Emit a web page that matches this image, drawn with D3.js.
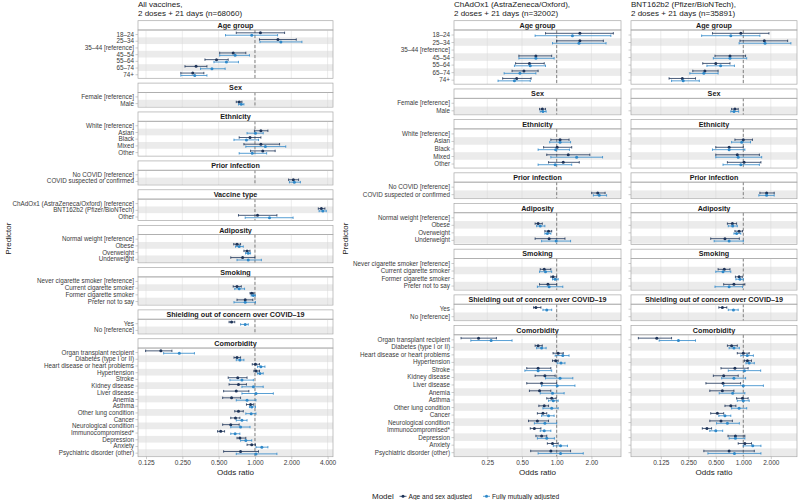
<!DOCTYPE html>
<html>
<head>
<meta charset="utf-8">
<script src="https://cdn.jsdelivr.net/npm/d3@7"></script>
<style>
  body { margin: 0; background: #fff; }
  text { font-family: "Liberation Sans", Arial, sans-serif; }
</style>
</head>
<body>
<div id="chart"></div>
<script>
// ---- levels of each predictor group ----
var ageLevels = ["18–24", "25–34", "35–44 [reference]", "45–54", "55–64", "65–74", "74+"];
var sexLevels = ["Female [reference]", "Male"];
var ethnicityLevels = ["White [reference]", "Asian", "Black", "Mixed", "Other"];
var priorLevels = ["No COVID [reference]", "COVID suspected or confirmed"];
var vaccineLevels = ["ChAdOx1 (AstraZeneca/Oxford) [reference]", "BNT162b2 (Pfizer/BioNTech)", "Other"];
var adiposityLevels = ["Normal weight [reference]", "Obese", "Overweight", "Underweight"];
var smokingLevels = ["Never cigarette smoker [reference]", "Current cigarette smoker", "Former cigarette smoker", "Prefer not to say"];
var shieldingLevels = ["Yes", "No [reference]"];
var comorbidityLevels = ["Organ transplant recipient", "Diabetes (type I or II)", "Heart disease or heart problems",
  "Hypertension", "Stroke", "Kidney disease", "Liver disease", "Anemia", "Asthma", "Other lung condition", "Cancer",
  "Neurological condition", "Immunocompromised*", "Depression", "Anxiety", "Psychiatric disorder (other)"];

var models = ["Age and sex adjusted", "Fully mutually adjusted"];
var xTicksAll = [0.125, 0.25, 0.5, 1, 2, 4];
var xTicksAz = [0.25, 0.5, 1, 2];
var xTicksPf = [0.125, 0.25, 0.5, 1, 2];

// ---- odds ratios [OR, lower, upper], in the order of the panel's levels (null = reference) ----
var allAgeSex = [
  [1.11,0.70,1.76],[1.55,1.09,2.2],null,[0.66,0.51,0.84],[0.48,0.385,0.60],[0.325,0.263,0.40],[0.305,0.243,0.377],
  null,[0.74,0.70,0.78],
  null,[1.12,0.99,1.28],[0.91,0.74,1.12],[1.12,0.81,1.60],[1.16,0.92,1.47],
  null,[2.08,1.90,2.30],
  null,[3.55,3.35,3.80],[1.05,0.73,1.52],
  null,[0.71,0.667,0.76],[0.86,0.81,0.91],[0.79,0.63,1.0],
  null,[0.71,0.66,0.77],[0.94,0.91,0.98],[0.83,0.71,0.96],
  [0.64,0.61,0.68],null,
  [0.166,0.124,0.205],[0.71,0.67,0.76],[1.01,0.95,1.09],[1.02,0.98,1.09],[0.72,0.60,0.86],[0.73,0.61,0.85],
  [0.70,0.55,0.89],[0.64,0.54,0.76],[0.92,0.85,0.97],[0.73,0.68,0.80],[0.69,0.63,0.75],[0.63,0.54,0.74],
  [0.52,0.49,0.56],[0.75,0.71,0.84],[0.94,0.86,1.01],[0.76,0.55,1.07]
];
var allFull = [
  [0.94,0.57,1.54],[1.64,1.10,2.45],null,[0.685,0.51,0.90],[0.58,0.457,0.73],[0.44,0.354,0.566],[0.317,0.243,0.40],
  null,[0.77,0.73,0.81],
  null,[1.01,0.86,1.17],[0.85,0.67,1.07],[1.22,0.84,1.80],[0.95,0.74,1.25],
  null,[2.12,1.93,2.38],
  null,[3.65,3.40,3.90],[1.32,0.83,2.07],
  null,[0.74,0.69,0.80],[0.88,0.835,0.92],[0.88,0.71,1.13],
  null,[0.74,0.68,0.82],[0.97,0.93,1.01],[0.83,0.67,1.01],
  [0.83,0.76,0.88],null,
  [0.236,0.175,0.315],[0.75,0.70,0.81],[1.12,1.05,1.21],[1.10,1.05,1.17],[0.78,0.62,0.97],[0.97,0.78,1.17],
  [1.02,0.78,1.42],[0.86,0.70,1.02],[0.94,0.90,1.01],[0.93,0.84,1.02],[0.78,0.70,0.86],[0.76,0.63,0.91],
  [0.685,0.63,0.75],[0.84,0.76,0.94],[1.14,1.02,1.28],[1.02,0.70,1.52]
];
var azAgeSex = [
  [1.59,0.80,3.1],[1.59,1.0,2.54],null,[0.66,0.47,0.905],[0.58,0.44,0.78],[0.52,0.41,0.69],[0.45,0.34,0.60],
  null,[0.75,0.71,0.80],
  null,[1.07,0.89,1.28],[1.01,0.77,1.35],[1.26,0.82,1.94],[1.14,0.85,1.57],
  null,[2.27,2.01,2.63],
  null,[0.69,0.65,0.75],[0.85,0.79,0.905],[0.86,0.65,1.18],
  null,[0.78,0.72,0.89],[0.93,0.89,1.0],[0.84,0.71,1.0],
  [0.66,0.63,0.73],null,
  [0.21,0.148,0.30],[0.69,0.65,0.75],[1.03,0.93,1.14],[0.98,0.92,1.03],[0.69,0.55,0.89],[0.79,0.65,0.97],
  [0.74,0.55,1.0],[0.71,0.58,0.89],[0.905,0.82,0.99],[0.78,0.70,0.85],[0.76,0.68,0.82],[0.68,0.57,0.85],
  [0.64,0.59,0.73],[0.74,0.66,0.82],[0.92,0.83,1.03],[0.89,0.595,1.32]
];
var azFull = [
  [1.37,0.65,2.95],[1.56,0.92,2.68],null,[0.66,0.47,0.95],[0.59,0.43,0.80],[0.48,0.35,0.66],[0.43,0.31,0.59],
  null,[0.76,0.72,0.81],
  null,[1.07,0.87,1.32],[0.98,0.69,1.29],[1.49,0.89,2.5],[0.97,0.69,1.35],
  null,[2.34,2.08,2.71],
  null,[0.72,0.67,0.79],[0.83,0.79,0.89],[0.99,0.74,1.32],
  null,[0.80,0.71,0.905],[0.97,0.92,1.03],[0.86,0.68,1.13],
  [0.82,0.76,0.905],null,
  [0.27,0.18,0.41],[0.74,0.67,0.81],[1.13,0.97,1.28],[1.09,1.01,1.18],[0.69,0.53,0.905],[1.07,0.80,1.38],
  [1.01,0.74,1.44],[0.92,0.72,1.16],[0.935,0.85,1.03],[0.905,0.76,1.03],[0.85,0.74,0.95],[0.79,0.64,1.0],
  [0.78,0.72,0.89],[0.82,0.68,0.955],[1.08,0.935,1.24],[1.08,0.69,1.70]
];
var pfAgeSex = [
  [0.94,0.46,1.91],[1.70,0.92,3.06],null,[0.715,0.49,1.06],[0.50,0.36,0.715],[0.38,0.28,0.53],[0.215,0.154,0.30],
  null,[0.81,0.745,0.88],
  null,[1.0,0.81,1.26],[0.70,0.50,1.0],[0.86,0.50,1.50],[1.02,0.67,1.56],
  null,[1.80,1.52,2.18],
  null,[0.76,0.67,0.845],[0.90,0.81,0.98],[0.63,0.44,0.905],
  null,[0.62,0.53,0.715],[0.90,0.82,0.975],[0.79,0.61,1.04],
  [0.59,0.54,0.66],null,
  [0.113,0.071,0.164],[0.745,0.67,0.86],[1.0,0.86,1.16],[1.11,1.03,1.23],[0.81,0.57,1.13],[0.61,0.47,0.88],
  [0.60,0.39,0.935],[0.59,0.43,0.79],[0.98,0.845,1.13],[0.73,0.63,0.83],[0.52,0.44,0.61],[0.57,0.43,0.76],
  [0.40,0.356,0.45],[0.82,0.68,1.04],[1.04,0.88,1.23],[0.70,0.37,1.32]
];
var pfFull = [
  [0.73,0.35,1.52],[1.73,0.90,3.32],null,[0.715,0.47,1.09],[0.565,0.40,0.80],[0.37,0.26,0.53],[0.22,0.164,0.33],
  null,[0.79,0.73,0.89],
  null,[0.96,0.745,1.20],[0.70,0.46,1.04],[0.88,0.50,1.59],[0.94,0.60,1.50],
  null,[1.80,1.48,2.18],
  null,[0.765,0.685,0.86],[0.845,0.79,0.94],[0.70,0.48,1.0],
  null,[0.60,0.50,0.73],[0.92,0.83,1.0],[0.70,0.49,0.98],
  [0.78,0.685,0.88],null,
  [0.195,0.12,0.30],[0.79,0.70,0.905],[1.105,0.94,1.29],[1.16,1.07,1.32],[1.03,0.685,1.55],[0.79,0.58,1.06],
  [1.0,0.61,1.66],[0.765,0.545,1.04],[1.0,0.86,1.16],[0.90,0.745,1.09],[0.63,0.54,0.73],[0.67,0.51,0.905],
  [0.50,0.43,0.595],[0.82,0.70,1.04],[1.27,1.0,1.56],[0.80,0.41,1.56]
];

var groupsAll = [
  ["Age group", ageLevels], ["Sex", sexLevels], ["Ethnicity", ethnicityLevels], ["Prior infection", priorLevels],
  ["Vaccine type", vaccineLevels], ["Adiposity", adiposityLevels], ["Smoking", smokingLevels],
  ["Shielding out of concern over COVID–19", shieldingLevels], ["Comorbidity", comorbidityLevels]
];
var groupsOne = groupsAll.filter(function(g) { return g[0] != "Vaccine type"; });

var colors = ["#1d3358", "#2e88c9"];

var totalWidth = 798, totalHeight = 500,
    plotTop = 20.7, plotBottom = 456.7, stripH = 9.3, gap = 4.8;

var svg = d3.select("#chart").append("svg")
    .attr("width", totalWidth)
    .attr("height", totalHeight);

var panels = [
  {title: ["All vaccines,", "2 doses + 21 days (n=68060)"], x0: 138, x1: 333, domain: [0.1073, 4.434],
   ticks: xTicksAll, fmt: ".3f", groups: groupsAll, labels: true, predX: 8, series: [allAgeSex, allFull]},
  {title: ["ChAdOx1 (AstraZeneca/Oxford),", "2 doses + 21 days (n=32002)"], x0: 454, x1: 621, domain: [0.1286, 3.613],
   ticks: xTicksAz, fmt: ".2f", groups: groupsOne, labels: true, predX: 345, series: [azAgeSex, azFull]},
  {title: ["BNT162b2 (Pfizer/BioNTech),", "2 doses + 21 days (n=35891)"], x0: 631, x1: 797, domain: [0.0590, 3.872],
   ticks: xTicksPf, fmt: ".3f", groups: groupsOne, labels: false, predX: null, series: [pfAgeSex, pfFull]}
];

panels.forEach(drawPanel);

function drawPanel(p) {
  var g = svg.append("g");
  var nUnits = d3.sum(p.groups, function(d) { return d[1].length + 0.2; });
  var u = (plotBottom - plotTop - p.groups.length * stripH - (p.groups.length - 1) * gap) / nUnits;
  var x = d3.scaleLog().base(2).domain(p.domain).range([p.x0, p.x1]);

  // title
  g.append("text").attr("x", p.x0).attr("y", 7).style("font-size", "8px").attr("fill", "#1a1a1a").text(p.title[0]);
  g.append("text").attr("x", p.x0).attr("y", 16).style("font-size", "8px").attr("fill", "#1a1a1a").text(p.title[1]);

  var y0 = plotTop, k = 0, bodyBottom = 0;
  p.groups.forEach(function(grp) {
    var levels = grp[1];
    var bodyTop = y0 + stripH, bodyH = (levels.length + 0.2) * u;
    bodyBottom = bodyTop + bodyH;
    var y = d3.scalePoint().domain(levels).range([bodyTop, bodyBottom]).padding(0.6);

    // strip
    g.append("rect").attr("x", p.x0).attr("y", y0).attr("width", p.x1 - p.x0).attr("height", stripH)
      .attr("fill", "#fff").attr("stroke", "#a8a8a8").attr("stroke-width", 0.7);
    g.append("text").attr("x", (p.x0 + p.x1) / 2).attr("y", y0 + stripH / 2).attr("dy", "0.36em")
      .attr("text-anchor", "middle").style("font-size", "7.2px").style("font-weight", "bold")
      .attr("fill", "#1a1a1a").text(grp[0]);

    // alternating row bands
    g.append("g").selectAll("rect")
      .data(levels.filter(function(d, i) { return i % 2 == 1; }))
      .enter().append("rect")
        .attr("x", p.x0).attr("width", p.x1 - p.x0)
        .attr("y", function(d) { return y(d) - u / 2; })
        .attr("height", u)
        .attr("fill", "#ebebeb");

    // grid lines
    g.append("g").selectAll("line").data(p.ticks).enter().append("line")
      .attr("x1", function(d) { return x(d); }).attr("x2", function(d) { return x(d); })
      .attr("y1", bodyTop).attr("y2", bodyBottom)
      .attr("stroke", "#d9d9d9").attr("stroke-width", 0.5);
    g.append("line").attr("x1", x(1)).attr("x2", x(1)).attr("y1", bodyTop).attr("y2", bodyBottom)
      .attr("stroke", "#555").attr("stroke-width", 0.7).attr("stroke-dasharray", "3,2");

    // y axis
    var yAxis = d3.axisLeft(y).tickSize(2.5).tickPadding(1.5);
    if (!p.labels) yAxis.tickFormat("");
    var ya = g.append("g").attr("transform", "translate(" + p.x0 + ",0)").call(yAxis);
    ya.select(".domain").remove();
    ya.selectAll("line").attr("stroke", "#999").attr("stroke-width", 0.5);
    ya.selectAll("text").style("font-size", "6.3px").attr("fill", "#3a3a3a");

    // error bars
    var rows = [];
    levels.forEach(function(l, i) {
      p.series.forEach(function(s, m) {
        var v = s[k + i];
        if (v) rows.push({level: l, model: m, or: v[0], lo: v[1], hi: v[2]});
      });
    });
    var off = function(d) { return y(d.level) + (d.model == 0 ? -1.2 : 1.2); };
    var eb = g.append("g").selectAll("g").data(rows).enter().append("g")
      .attr("stroke", function(d) { return colors[d.model]; })
      .attr("fill", function(d) { return colors[d.model]; });
    eb.append("line")
      .attr("x1", function(d) { return x(d.lo); }).attr("x2", function(d) { return x(d.hi); })
      .attr("y1", off).attr("y2", off).attr("stroke-width", 0.8);
    eb.append("line")
      .attr("x1", function(d) { return x(d.lo); }).attr("x2", function(d) { return x(d.lo); })
      .attr("y1", function(d) { return off(d) - 1.2; }).attr("y2", function(d) { return off(d) + 1.2; })
      .attr("stroke-width", 0.8);
    eb.append("line")
      .attr("x1", function(d) { return x(d.hi); }).attr("x2", function(d) { return x(d.hi); })
      .attr("y1", function(d) { return off(d) - 1.2; }).attr("y2", function(d) { return off(d) + 1.2; })
      .attr("stroke-width", 0.8);
    eb.append("circle")
      .attr("cx", function(d) { return x(d.or); }).attr("cy", off).attr("r", 1.5).attr("stroke", "none");

    // panel border
    g.append("rect").attr("x", p.x0).attr("y", bodyTop).attr("width", p.x1 - p.x0).attr("height", bodyH)
      .attr("fill", "none").attr("stroke", "#a8a8a8").attr("stroke-width", 0.7);

    k += levels.length;
    y0 = bodyBottom + gap;
  });

  // x axis
  var xAxis = d3.axisBottom(x).tickValues(p.ticks).tickFormat(d3.format(p.fmt)).tickSize(2.5).tickPadding(1.5);
  var xa = g.append("g").attr("transform", "translate(0," + bodyBottom + ")").call(xAxis);
  xa.select(".domain").remove();
  xa.selectAll("line").attr("stroke", "#999").attr("stroke-width", 0.5);
  xa.selectAll("text").style("font-size", "6.5px").attr("fill", "#3a3a3a");
  g.append("text").attr("x", (p.x0 + p.x1) / 2).attr("y", 474.5).attr("text-anchor", "middle")
    .style("font-size", "8px").attr("fill", "#1a1a1a").text("Odds ratio");

  if (p.predX != null) {
    g.append("text").attr("transform", "translate(" + p.predX + "," + ((plotTop + plotBottom) / 2) + ") rotate(-90)")
      .attr("dy", "0.35em").attr("text-anchor", "middle").style("font-size", "8px").attr("fill", "#1a1a1a")
      .text("Predictor");
  }
}

// legend
var legend = svg.append("g").attr("transform", "translate(0,496.3)");
legend.append("text").attr("x", 372).attr("dy", "0.35em").style("font-size", "8px").attr("fill", "#1a1a1a").text("Model");
var keyX = [399.5, 483];
models.forEach(function(m, i) {
  var kg = legend.append("g").attr("transform", "translate(" + keyX[i] + ",0)");
  kg.append("line").attr("x1", 0).attr("x2", 7).attr("stroke", colors[i]).attr("stroke-width", 0.8);
  kg.append("circle").attr("cx", 3.5).attr("r", 1.5).attr("fill", colors[i]);
  kg.append("text").attr("x", 9).attr("dy", "0.35em").style("font-size", "6.6px").attr("fill", "#1a1a1a").text(m);
});
</script>
</body>
</html>
